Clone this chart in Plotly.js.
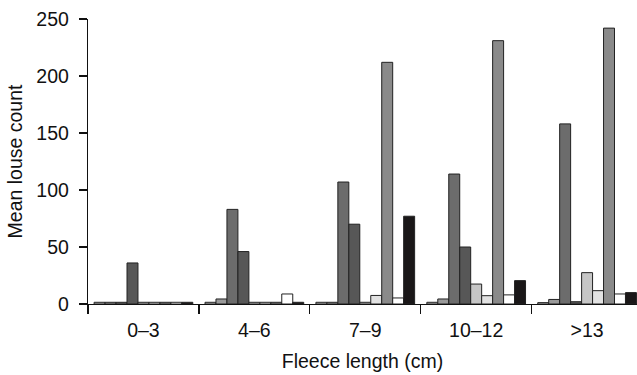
<!DOCTYPE html>
<html>
<head>
<meta charset="utf-8">
<script src="https://cdn.plot.ly/plotly-3.0.1.min.js"></script>
<style>html,body{margin:0;padding:0;background:#fff;}#chart{width:637px;height:375px;}</style>
</head>
<body>
<div id="chart"></div>
<script>
const categories = ["0\u20133", "4\u20136", "7\u20139", "10\u201312", ">13"];
const s1 = [1.5, 1.5, 1.5, 1.5, 1.2];
const s2 = [1.5, 4.4, 1.5, 4.4, 4];
const s3 = [1.5, 83, 107, 114, 158];
const s4 = [36, 46, 70, 50, 2];
const s5 = [1.5, 1.5, 1.5, 17.5, 27.5];
const s6 = [1.5, 1.5, 7.5, 7.3, 11.7];
const s7 = [1.5, 1.5, 212, 231, 242];
const s8 = [1.5, 8.8, 5.3, 8, 8.8];
const s9 = [1.5, 1.5, 77, 20.5, 10];
const seriesList = [s1, s2, s3, s4, s5, s6, s7, s8, s9];
const colors = ["#c4c4c4", "#9a9a9a", "#6c6c6c", "#575757", "#c6c6c6", "#e2e2e2", "#8a8a8a", "#ffffff", "#1a1718"];

const traces = seriesList.map((vals, i) => ({
  type: "bar",
  x: categories,
  y: vals,
  marker: {color: colors[i], line: {color: "#222", width: 1}},
  showlegend: false,
  hoverinfo: "none"
}));

const font = {family: "Liberation Sans, Arial, sans-serif", size: 19.5, color: "#111"};
const layout = {
  width: 637, height: 375,
  margin: {l: 88, r: 0, t: 19, b: 71},
  paper_bgcolor: "#fff", plot_bgcolor: "#fff",
  font: font,
  barmode: "group",
  bargap: 0.11,
  bargroupgap: 0,
  xaxis: {
    type: "category",
    range: [-0.5, 4.45],
    tickson: "boundaries",
    ticks: "outside", ticklen: 9, tickwidth: 1.2, tickcolor: "#111",
    showline: true, linecolor: "#111", linewidth: 1.2,
    showgrid: false, zeroline: false,
    tickfont: font,
    ticklabelstandoff: 8,
    title: {text: "Fleece length (cm)", font: font, standoff: 14}
  },
  yaxis: {
    range: [0, 250],
    tickvals: [0, 50, 100, 150, 200, 250],
    ticks: "outside", ticklen: 8, tickwidth: 1.2, tickcolor: "#111",
    showline: true, linecolor: "#111", linewidth: 1.2,
    showgrid: false, zeroline: false,
    tickfont: font,
    ticklabelstandoff: 6,
    title: {text: "Mean louse count", font: font, standoff: 8}
  }
};
Plotly.newPlot("chart", traces, layout, {staticPlot: true, displayModeBar: false});
</script>
</body>
</html>
